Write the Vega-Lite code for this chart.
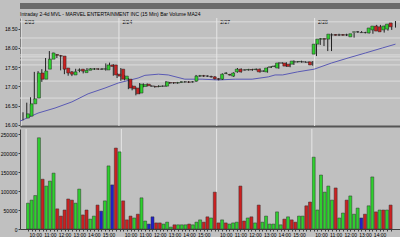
{
"$schema": "https://vega.github.io/schema/vega-lite/v6.json",
"background": "#c0c0c0",
"padding": {"left": 0, "top": 0, "right": 0, "bottom": 0},
"spacing": 0,
"datasets": {
"bars": [
{"i":0,"o":16.18,"c":16.29,"h":16.33,"l":16.12,"v":68000,"vd":"up"},
{"i":1,"o":16.23,"c":16.55,"h":16.58,"l":16.20,"v":76000,"vd":"up"},
{"i":2,"o":16.55,"c":16.68,"h":16.72,"l":16.50,"v":88000,"vd":"up"},
{"i":3,"o":16.70,"c":17.35,"h":17.38,"l":16.66,"v":240000,"vd":"up"},
{"i":4,"o":17.35,"c":17.19,"h":17.40,"l":17.10,"v":131000,"vd":"down"},
{"i":5,"o":17.19,"c":17.40,"h":17.45,"l":17.12,"v":113000,"vd":"up"},
{"i":6,"o":17.45,"c":17.71,"h":17.74,"l":17.40,"v":126000,"vd":"up"},
{"i":7,"o":17.71,"c":17.87,"h":17.92,"l":17.68,"v":147000,"vd":"up"},
{"i":8,"o":17.83,"c":17.81,"h":17.88,"l":17.78,"v":53000,"vd":"down"},
{"i":9,"o":17.80,"c":17.79,"h":17.84,"l":17.74,"v":34000,"vd":"down"},
{"i":10,"o":17.79,"c":17.45,"h":17.82,"l":17.42,"v":50000,"vd":"down"},
{"i":11,"o":17.48,"c":17.35,"h":17.50,"l":17.32,"v":79000,"vd":"down"},
{"i":12,"o":17.38,"c":17.32,"h":17.40,"l":17.28,"v":76000,"vd":"down"},
{"i":13,"o":17.30,"c":17.38,"h":17.40,"l":17.27,"v":68000,"vd":"up"},
{"i":14,"o":17.42,"c":17.43,"h":17.46,"l":17.38,"v":105000,"vd":"up"},
{"i":15,"o":17.45,"c":17.40,"h":17.47,"l":17.37,"v":37000,"vd":"down"},
{"i":16,"o":17.36,"c":17.42,"h":17.44,"l":17.34,"v":50000,"vd":"down"},
{"i":17,"o":17.42,"c":17.46,"h":17.48,"l":17.40,"v":26000,"vd":"up"},
{"i":18,"o":17.45,"c":17.46,"h":17.48,"l":17.43,"v":34000,"vd":"up"},
{"i":19,"o":17.46,"c":17.45,"h":17.48,"l":17.43,"v":63000,"vd":"down"},
{"i":20,"o":17.45,"c":17.45,"h":17.47,"l":17.43,"v":47000,"vd":"flat"},
{"i":21,"o":17.45,"c":17.46,"h":17.48,"l":17.43,"v":74000,"vd":"up"},
{"i":22,"o":17.43,"c":17.56,"h":17.60,"l":17.41,"v":166000,"vd":"up"},
{"i":23,"o":17.56,"c":17.52,"h":17.62,"l":17.50,"v":116000,"vd":"flat"},
{"i":24,"o":17.56,"c":17.30,"h":17.58,"l":17.28,"v":213000,"vd":"down"},
{"i":25,"o":17.32,"c":17.27,"h":17.35,"l":17.22,"v":203000,"vd":"up"},
{"i":26,"o":17.45,"c":17.19,"h":17.48,"l":17.15,"v":74000,"vd":"down"},
{"i":27,"o":17.19,"c":17.27,"h":17.30,"l":17.16,"v":24000,"vd":"down"},
{"i":28,"o":17.19,"c":16.96,"h":17.22,"l":16.93,"v":34000,"vd":"down"},
{"i":29,"o":17.01,"c":16.94,"h":17.03,"l":16.90,"v":29000,"vd":"up"},
{"i":30,"o":16.96,"c":16.81,"h":16.98,"l":16.77,"v":39000,"vd":"down"},
{"i":31,"o":16.83,"c":17.06,"h":17.09,"l":16.80,"v":82000,"vd":"up"},
{"i":32,"o":17.00,"c":17.05,"h":17.08,"l":16.98,"v":21000,"vd":"up"},
{"i":33,"o":17.06,"c":17.02,"h":17.08,"l":17.00,"v":13000,"vd":"flat"},
{"i":34,"o":17.01,"c":17.01,"h":17.04,"l":16.99,"v":32000,"vd":"flat"},
{"i":35,"o":17.00,"c":16.99,"h":17.02,"l":16.97,"v":16000,"vd":"down"},
{"i":36,"o":17.00,"c":17.01,"h":17.03,"l":16.98,"v":16000,"vd":"down"},
{"i":37,"o":17.01,"c":17.01,"h":17.03,"l":16.99,"v":13000,"vd":"up"},
{"i":38,"o":17.01,"c":17.12,"h":17.14,"l":16.99,"v":18000,"vd":"up"},
{"i":39,"o":17.10,"c":17.09,"h":17.12,"l":17.07,"v":5000,"vd":"up"},
{"i":40,"o":17.10,"c":17.09,"h":17.11,"l":17.07,"v":11000,"vd":"down"},
{"i":41,"o":17.09,"c":17.10,"h":17.12,"l":17.07,"v":11000,"vd":"up"},
{"i":42,"o":17.11,"c":17.12,"h":17.14,"l":17.09,"v":11000,"vd":"up"},
{"i":43,"o":17.12,"c":17.12,"h":17.14,"l":17.10,"v":11000,"vd":"up"},
{"i":44,"o":17.12,"c":17.11,"h":17.14,"l":17.09,"v":13000,"vd":"down"},
{"i":45,"o":17.12,"c":17.12,"h":17.14,"l":17.10,"v":11000,"vd":"up"},
{"i":46,"o":17.14,"c":17.27,"h":17.30,"l":17.12,"v":18000,"vd":"up"},
{"i":47,"o":17.27,"c":17.28,"h":17.30,"l":17.25,"v":24000,"vd":"up"},
{"i":48,"o":17.28,"c":17.27,"h":17.30,"l":17.25,"v":18000,"vd":"down"},
{"i":49,"o":17.27,"c":17.27,"h":17.29,"l":17.25,"v":32000,"vd":"down"},
{"i":50,"o":17.26,"c":17.25,"h":17.28,"l":17.23,"v":29000,"vd":"up"},
{"i":51,"o":17.25,"c":17.20,"h":17.27,"l":17.18,"v":97000,"vd":"down"},
{"i":52,"o":17.20,"c":17.19,"h":17.22,"l":17.16,"v":16000,"vd":"down"},
{"i":53,"o":17.19,"c":17.32,"h":17.34,"l":17.17,"v":24000,"vd":"up"},
{"i":54,"o":17.34,"c":17.35,"h":17.37,"l":17.32,"v":16000,"vd":"down"},
{"i":55,"o":17.31,"c":17.30,"h":17.33,"l":17.28,"v":13000,"vd":"up"},
{"i":56,"o":17.27,"c":17.35,"h":17.37,"l":17.25,"v":16000,"vd":"up"},
{"i":57,"o":17.38,"c":17.45,"h":17.48,"l":17.36,"v":18000,"vd":"up"},
{"i":58,"o":17.45,"c":17.38,"h":17.47,"l":17.36,"v":113000,"vd":"down"},
{"i":59,"o":17.43,"c":17.43,"h":17.45,"l":17.41,"v":21000,"vd":"down"},
{"i":60,"o":17.43,"c":17.44,"h":17.46,"l":17.41,"v":29000,"vd":"up"},
{"i":61,"o":17.44,"c":17.43,"h":17.46,"l":17.41,"v":32000,"vd":"down"},
{"i":62,"o":17.44,"c":17.45,"h":17.47,"l":17.42,"v":16000,"vd":"up"},
{"i":63,"o":17.45,"c":17.38,"h":17.47,"l":17.36,"v":63000,"vd":"down"},
{"i":64,"o":17.40,"c":17.40,"h":17.42,"l":17.38,"v":18000,"vd":"up"},
{"i":65,"o":17.38,"c":17.48,"h":17.50,"l":17.36,"v":34000,"vd":"up"},
{"i":66,"o":17.50,"c":17.51,"h":17.53,"l":17.48,"v":13000,"vd":"up"},
{"i":67,"o":17.52,"c":17.53,"h":17.55,"l":17.50,"v":13000,"vd":"up"},
{"i":68,"o":17.48,"c":17.61,"h":17.63,"l":17.46,"v":45000,"vd":"up"},
{"i":69,"o":17.61,"c":17.61,"h":17.63,"l":17.59,"v":11000,"vd":"up"},
{"i":70,"o":17.61,"c":17.53,"h":17.63,"l":17.51,"v":26000,"vd":"down"},
{"i":71,"o":17.58,"c":17.52,"h":17.60,"l":17.50,"v":32000,"vd":"up"},
{"i":72,"o":17.58,"c":17.66,"h":17.68,"l":17.56,"v":24000,"vd":"down"},
{"i":73,"o":17.64,"c":17.64,"h":17.66,"l":17.62,"v":18000,"vd":"down"},
{"i":74,"o":17.64,"c":17.65,"h":17.67,"l":17.62,"v":34000,"vd":"up"},
{"i":75,"o":17.64,"c":17.64,"h":17.66,"l":17.62,"v":34000,"vd":"up"},
{"i":76,"o":17.63,"c":17.63,"h":17.65,"l":17.61,"v":61000,"vd":"down"},
{"i":77,"o":17.64,"c":17.56,"h":17.66,"l":17.54,"v":71000,"vd":"down"},
{"i":78,"o":17.84,"c":18.10,"h":18.12,"l":17.79,"v":189000,"vd":"up"},
{"i":79,"o":18.10,"c":18.23,"h":18.26,"l":18.08,"v":50000,"vd":"up"},
{"i":80,"o":18.23,"c":18.24,"h":18.26,"l":18.05,"v":142000,"vd":"up"},
{"i":81,"o":18.24,"c":18.23,"h":18.27,"l":17.92,"v":97000,"vd":"up"},
{"i":82,"o":18.23,"c":18.36,"h":18.38,"l":17.92,"v":113000,"vd":"up"},
{"i":83,"o":18.34,"c":18.34,"h":18.36,"l":18.32,"v":76000,"vd":"up"},
{"i":84,"o":18.35,"c":18.33,"h":18.37,"l":18.31,"v":108000,"vd":"down"},
{"i":85,"o":18.34,"c":18.34,"h":18.36,"l":18.32,"v":29000,"vd":"up"},
{"i":86,"o":18.35,"c":18.33,"h":18.37,"l":18.31,"v":42000,"vd":"up"},
{"i":87,"o":18.34,"c":18.34,"h":18.36,"l":18.32,"v":76000,"vd":"down"},
{"i":88,"o":18.29,"c":18.37,"h":18.39,"l":18.27,"v":87000,"vd":"up"},
{"i":89,"o":18.41,"c":18.42,"h":18.44,"l":18.39,"v":39000,"vd":"up"},
{"i":90,"o":18.42,"c":18.42,"h":18.44,"l":18.40,"v":55000,"vd":"up"},
{"i":91,"o":18.40,"c":18.40,"h":18.42,"l":18.38,"v":29000,"vd":"flat"},
{"i":92,"o":18.40,"c":18.40,"h":18.42,"l":18.38,"v":39000,"vd":"down"},
{"i":93,"o":18.39,"c":18.52,"h":18.54,"l":18.37,"v":61000,"vd":"up"},
{"i":94,"o":18.47,"c":18.57,"h":18.60,"l":18.45,"v":137000,"vd":"up"},
{"i":95,"o":18.57,"c":18.44,"h":18.60,"l":18.42,"v":45000,"vd":"down"},
{"i":96,"o":18.55,"c":18.42,"h":18.58,"l":18.40,"v":50000,"vd":"up"},
{"i":97,"o":18.47,"c":18.57,"h":18.60,"l":18.45,"v":50000,"vd":"down"},
{"i":98,"o":18.49,"c":18.62,"h":18.65,"l":18.47,"v":50000,"vd":"up"},
{"i":99,"o":18.65,"c":18.55,"h":18.70,"l":18.53,"v":63000,"vd":"down"}
],
"ma": [
{"i":-0.8,"m":16.10},{"i":4,"m":16.31},{"i":8.5,"m":16.44},{"i":13,"m":16.60},{"i":17.3,"m":16.81},{"i":21.8,"m":16.96},{"i":25.3,"m":17.09},{"i":30.6,"m":17.22},{"i":32.4,"m":17.29},{"i":36,"m":17.32},{"i":38.6,"m":17.30},{"i":43,"m":17.19},{"i":47.6,"m":17.19},{"i":51.9,"m":17.17},{"i":56.4,"m":17.19},{"i":60.9,"m":17.19},{"i":65.2,"m":17.25},{"i":67,"m":17.30},{"i":69,"m":17.30},{"i":73,"m":17.38},{"i":77.4,"m":17.45},{"i":82,"m":17.61},{"i":86.4,"m":17.74},{"i":91,"m":17.87},{"i":95.5,"m":18.00},{"i":99,"m":18.10}
],
"levels": [{"p":18.68},{"p":18.26},{"p":18.0},{"p":17.82},{"p":17.77},{"p":17.69},{"p":17.56},{"p":17.14},{"p":16.70}],
"days": [{"s":-0.5},{"s":25.5},{"s":51.5},{"s":77.5}]
},
"vconcat": [
{
"width": 385, "height": 6,
"view": {"fill": "#6b6b6b", "stroke": null},
"title": {"text": "Intraday   2-4d    MVL - MARVEL ENTERTAINMENT INC (15 Min)   Bar    Volume  MA24", "orient": "bottom", "font": "Liberation Sans", "fontSize": 5, "fontWeight": "normal", "color": "#000000", "anchor": "start", "offset": 1},
"data": {"values": [{"t": ""}]},
"mark": {"type": "text", "color": "#ffffff"},
"encoding": {"text": {"field": "t", "type": "nominal"}}
},
{
"width": 380, "height": 108,
"resolve": {"scale": {"x": "independent"}, "axis": {"x": "independent"}},
"layer": [
{"data": {"name": "levels"}, "mark": {"type": "rule", "color": "#dcdcdc", "strokeWidth": 1},
 "encoding": {"y": {"field": "p", "type": "quantitative", "title": null, "scale": {"domain": [15.974, 18.779], "nice": false, "zero": false},
   "axis": {"values": [16, 16.5, 17, 17.5, 18, 18.5], "format": ".2f", "grid": false, "labelOverlap": false, "maxExtent": 15, "minExtent": 15}}}},
{"data": {"name": "days"}, "mark": {"type": "rule", "color": "#e6e6e6", "strokeWidth": 1},
 "encoding": {"x": {"field": "s", "type": "quantitative", "title": null, "scale": {"domain": [-0.8, 100.2], "nice": false, "zero": false},
   "axis": {"orient": "top", "values": [-0.5, 25.5, 51.5, 77.5], "labelExpr": "datum.value < 0 ? '2/23' : datum.value < 30 ? '2/24' : datum.value < 60 ? '2/27' : '2/28'", "labelAlign": "left", "labelBaseline": "top", "labelPadding": -1, "labelOffset": 3, "ticks": false, "domain": false, "grid": false, "labelOverlap": false, "labelFlush": false, "maxExtent": 0, "minExtent": 0}}}},
{"data": {"name": "ma"}, "mark": {"type": "line", "color": "#5a5ab4", "strokeWidth": 1},
 "encoding": {"x": {"field": "i", "type": "quantitative", "title": null, "scale": {"domain": [-0.8, 100.2], "nice": false, "zero": false}, "axis": null},
   "y": {"field": "m", "type": "quantitative", "title": null, "axis": {"values": [16, 16.5, 17, 17.5, 18, 18.5], "format": ".2f", "grid": false, "labelOverlap": false, "maxExtent": 15, "minExtent": 15}}}},
{"data": {"name": "bars"}, "mark": {"type": "rule", "color": "#202020", "strokeWidth": 1},
 "encoding": {"x": {"field": "i", "type": "quantitative", "title": null, "scale": {"domain": [-0.8, 100.2], "nice": false, "zero": false},
   "axis": {"orient": "bottom", "labels": false, "ticks": false, "grid": false, "domainWidth": 2, "domainColor": "#555555", "maxExtent": 0, "minExtent": 0}},
   "y": {"field": "l", "type": "quantitative", "title": null, "axis": {"values": [16, 16.5, 17, 17.5, 18, 18.5], "format": ".2f", "grid": false, "labelOverlap": false, "maxExtent": 15, "minExtent": 15}}, "y2": {"field": "h"}}},
{"data": {"name": "bars"}, "mark": {"type": "bar", "size": 3, "stroke": "#202020", "strokeWidth": 0.5},
 "encoding": {"x": {"field": "i", "type": "quantitative", "title": null, "scale": {"domain": [-0.8, 100.2], "nice": false, "zero": false}, "axis": null},
   "y": {"field": "o", "type": "quantitative", "title": null, "axis": {"values": [16, 16.5, 17, 17.5, 18, 18.5], "format": ".2f", "grid": false, "labelOverlap": false, "maxExtent": 15, "minExtent": 15}}, "y2": {"field": "c"},
   "color": {"condition": [{"test": "datum.c > datum.o", "value": "#2fd02f"}, {"test": "datum.c < datum.o", "value": "#cc2020"}], "value": "#303030"}}}
]
},
{
"width": 380, "height": 100,
"layer": [
{"data": {"name": "days"}, "mark": {"type": "rule", "color": "#e6e6e6", "strokeWidth": 1},
 "encoding": {"x": {"field": "s", "type": "quantitative", "title": null, "scale": {"domain": [-0.8, 100.2], "nice": false, "zero": false},
   "axis": {"values": [0,1,2,3,4,5,6,7,8,9,10,11,12,13,14,15,16,17,18,19,20,21,22,23,24,25,26,27,28,29,30,31,32,33,34,35,36,37,38,39,40,41,42,43,44,45,46,47,48,49,50,51,52,53,54,55,56,57,58,59,60,61,62,63,64,65,66,67,68,69,70,71,72,73,74,75,76,77,78,79,80,81,82,83,84,85,86,87,88,89,90,91,92,93,94,95,96,97,98,99],
     "labelExpr": "datum.value % 26 >= 2 && (datum.value % 26 - 2) % 4 == 0 ? (9 + (datum.value % 26 + 2) / 4) + ':00' : ''",
     "labelOverlap": false, "labelFlush": false, "grid": false, "tickSize": 2}}}},
{"data": {"name": "bars"}, "mark": {"type": "bar", "size": 3, "stroke": "#303030", "strokeWidth": 0.5},
 "encoding": {"x": {"field": "i", "type": "quantitative", "title": null, "scale": {"domain": [-0.8, 100.2], "nice": false, "zero": false},
   "axis": {"values": [0,1,2,3,4,5,6,7,8,9,10,11,12,13,14,15,16,17,18,19,20,21,22,23,24,25,26,27,28,29,30,31,32,33,34,35,36,37,38,39,40,41,42,43,44,45,46,47,48,49,50,51,52,53,54,55,56,57,58,59,60,61,62,63,64,65,66,67,68,69,70,71,72,73,74,75,76,77,78,79,80,81,82,83,84,85,86,87,88,89,90,91,92,93,94,95,96,97,98,99],
     "labelExpr": "datum.value % 26 >= 2 && (datum.value % 26 - 2) % 4 == 0 ? (9 + (datum.value % 26 + 2) / 4) + ':00' : ''",
     "labelOverlap": false, "labelFlush": false, "grid": false, "tickSize": 2}},
   "y": {"field": "v", "type": "quantitative", "title": null, "scale": {"domain": [0, 263158], "nice": false},
     "axis": {"values": [0, 50000, 100000, 150000, 200000, 250000], "format": "d", "grid": false, "labelOverlap": false, "maxExtent": 15, "minExtent": 15}},
   "color": {"field": "vd", "type": "nominal", "scale": {"domain": ["up", "down", "flat"], "range": ["#2fd02f", "#cc2020", "#2020cc"]}, "legend": null}}}
]
}
],
"config": {
"view": {"stroke": null},
"axis": {"labelFont": "Liberation Sans", "labelFontSize": 5, "labelColor": "#000000", "domainColor": "#404040", "tickColor": "#404040", "tickSize": 2, "labelPadding": 1, "labelOverlap": false}
}
}
